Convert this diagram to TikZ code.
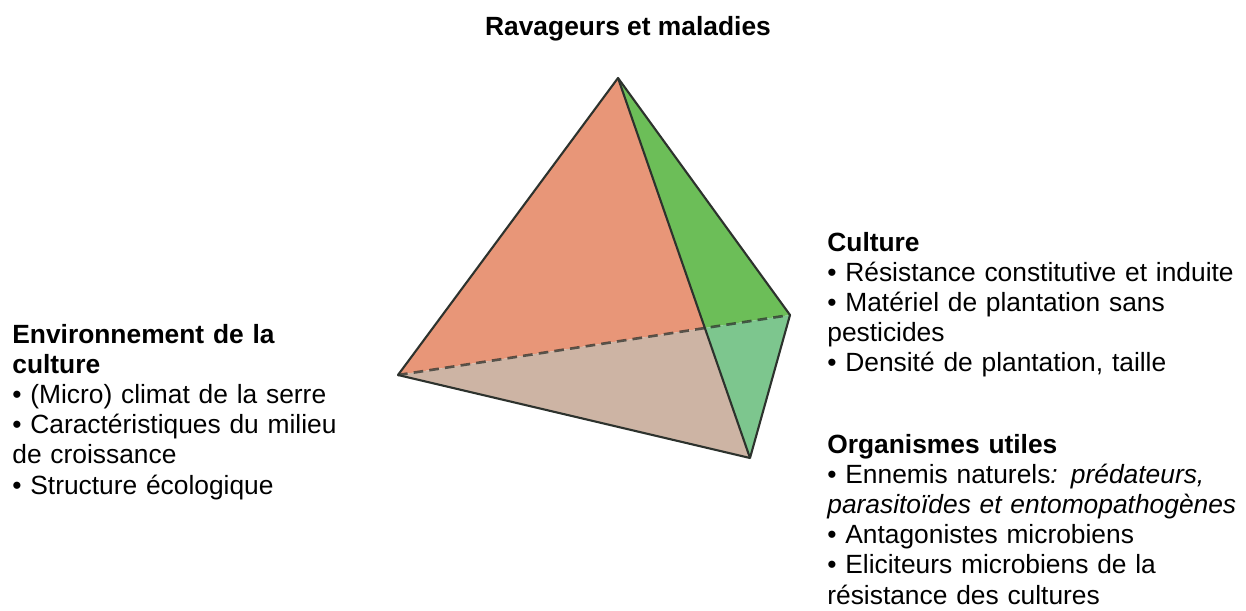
\documentclass[tikz,border=0pt]{standalone}
\usepackage{fontspec}
\setmainfont{Liberation Sans}
\usepackage{tikz}

\definecolor{faceorange}{RGB}{232,150,120}
\definecolor{facetan}{RGB}{205,180,164}
\definecolor{facegreen}{RGB}{108,190,88}
\definecolor{facelightgreen}{RGB}{125,198,142}
\definecolor{edgegrey}{RGB}{45,50,45}

\tikzset{
  blocktext/.style={inner sep=0pt,anchor=base west,align=left,
    font=\fontsize{15pt}{17.2pt}\selectfont}
}

\begin{document}
\begin{tikzpicture}[join=round] % tetrahedron with four factors
        \useasboundingbox (0,0) rectangle (24.92,12.2);
        \coordinate (top) at (12.36,10.64);
        \coordinate (lft) at (7.96,4.70);
        \coordinate (bot) at (15.00,3.04);
        \coordinate (rgt) at (15.80,5.90);
        \coordinate (mid) at (intersection of top--bot and lft--rgt);
        \fill[faceorange](top)--(lft)--(mid)--cycle;
        \fill[facetan](lft)--(bot)--(mid)--cycle;
        \fill[facegreen](top)--(mid)--(rgt)--cycle;
        \fill[facelightgreen](mid)--(bot)--(rgt)--cycle;
        \draw[edgegrey,opacity=0.75,line width=1.5pt,dash pattern=on 5.5pt off 3.5pt](lft)--(rgt);
        \draw[edgegrey,line width=1.2pt](top)--(lft)--(bot)--(rgt)--cycle;
        \draw[edgegrey,line width=1.2pt](top)--(bot);
        \node[blocktext,anchor=base] (pests) at (12.56,11.48) {\textbf{Ravageurs et maladies}};
        \node[blocktext,text width=7.6cm] (environ) at (0.24,5.34)
                {\textbf{Environnement de la}\\
                 \textbf{culture}\\
                 • (Micro) climat de la serre\\
                 • Caractéristiques du milieu\\
                 de croissance\\
                 • Structure écologique};
        \node[blocktext,text width=8.2cm] (crop) at (16.54,7.18)
                {\textbf{Culture}\\
                 • Résistance constitutive et induite\\
                 • Matériel de plantation sans\\
                 pesticides\\
                 • Densité de plantation, taille};
        \node[blocktext,text width=8.2cm] (useful) at (16.54,3.14)
                {\textbf{Organismes utiles}\\
                 • Ennemis naturels\textit{: prédateurs,}\\
                 \textit{parasitoïdes et entomopathogènes}\\
                 • Antagonistes microbiens\\
                 • Eliciteurs microbiens de la\\
                 résistance des cultures};
    \end{tikzpicture}
\end{document}
